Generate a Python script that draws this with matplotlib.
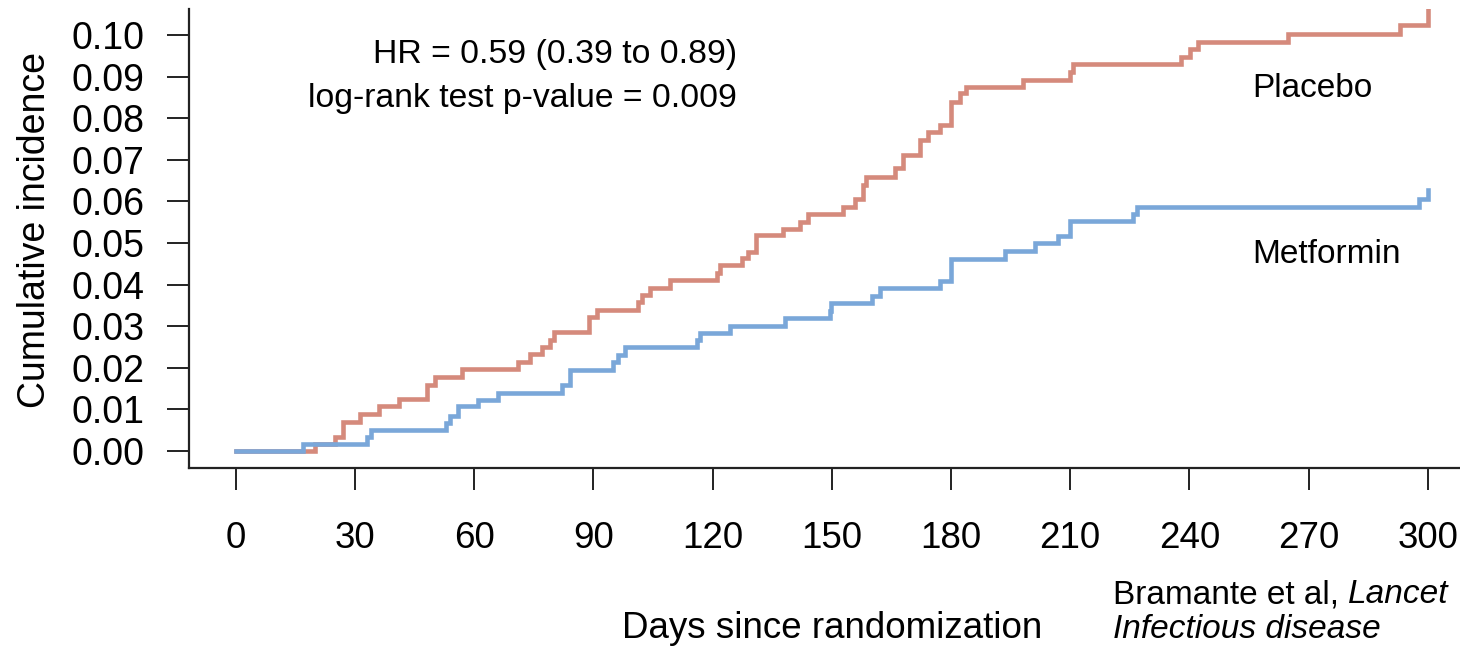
import matplotlib
matplotlib.use("Agg")
import matplotlib.pyplot as plt
import numpy as np

plt.rcParams['font.family'] = ['Liberation Sans', 'DejaVu Sans']

# ---- data ----
placebo_days = [0, 20, 25, 27, 31.2, 36, 41, 48, 50, 57, 71, 74, 77, 79, 80, 89, 91,
                101.3, 102.1, 104.2, 109.2, 121, 121.8, 127.3, 128.9, 131, 137.8, 142,
                144.1, 152.9, 155.8, 157.9, 158.7, 165.9, 168, 172.2, 174.3, 177.2,
                180.1, 182.2, 183.9, 198.2, 209.9, 210.8, 238, 240.1, 242.2, 264.9,
                293, 300]
placebo_inc = [0, 0.0017, 0.0034, 0.0070, 0.0089, 0.0107, 0.0124, 0.0159, 0.0179,
               0.0196, 0.0213, 0.0232, 0.0249, 0.0267, 0.0287, 0.0321, 0.0339,
               0.0359, 0.0375, 0.0391, 0.0411, 0.0427, 0.0447, 0.0463, 0.0479,
               0.0519, 0.0535, 0.0551, 0.0571, 0.0587, 0.0605, 0.0639, 0.0660,
               0.0680, 0.0713, 0.0748, 0.0768, 0.0784, 0.0840, 0.0860, 0.0876,
               0.0893, 0.0912, 0.0930, 0.0948, 0.0966, 0.0984, 0.1004, 0.1024, 0.1090]

metformin_days = [0, 16.9, 32.9, 33.9, 53, 54, 56, 61, 66, 82, 84, 95, 96.2, 97.9,
                  116, 116.8, 124.3, 138.2, 149.5, 149.9, 160, 162.1, 177.2, 180.1,
                  193.6, 201.1, 207, 210, 225.8, 226.9, 297.8, 300.1]
metformin_inc = [0, 0.0017, 0.0034, 0.0050, 0.0067, 0.0085, 0.0107, 0.0123, 0.0140,
                 0.0159, 0.0195, 0.0213, 0.0231, 0.0249, 0.0267, 0.0284, 0.0301,
                 0.0320, 0.0337, 0.0355, 0.0373, 0.0391, 0.0409, 0.0462, 0.0481,
                 0.0499, 0.0517, 0.0553, 0.0571, 0.0587, 0.0606, 0.0627]

x_ticks = [0, 30, 60, 90, 120, 150, 180, 210, 240, 270, 300]
y_ticks = [0.00, 0.01, 0.02, 0.03, 0.04, 0.05, 0.06, 0.07, 0.08, 0.09, 0.10]
y_tick_labels = ["0.00", "0.01", "0.02", "0.03", "0.04", "0.05", "0.06", "0.07",
                 "0.08", "0.09", "0.10"]

RED = "#D58A7C"
BLUE = "#7AA7D9"
W, H = 1460, 646

fig = plt.figure(figsize=(W / 100, H / 100), dpi=100)
# axes box in pixels: left 189, right 1475 (beyond figure), top 9, bottom 468
ax = fig.add_axes([189 / W, 1 - 468 / H, (1475 - 189) / W, (468 - 9) / H])
ax.set_xlim(-11.8, 311.9)
ax.set_ylim(-0.0041, 0.1063)

ax.step(placebo_days, placebo_inc, where='post', color=RED, lw=3.3,
        solid_joinstyle='miter')
ax.step(metformin_days, metformin_inc, where='post', color=BLUE, lw=3.3,
        solid_joinstyle='miter')

for s in ['top', 'right']:
    ax.spines[s].set_visible(False)
for s in ['left', 'bottom']:
    ax.spines[s].set_linewidth(1.6)
    ax.spines[s].set_color('#222222')

ax.set_xticks(x_ticks)
ax.set_xticklabels([str(v) for v in x_ticks])
ax.set_yticks(y_ticks)
ax.set_yticklabels(y_tick_labels)
ax.tick_params(axis='both', direction='out', length=16, width=1.4, color='#222222',
               labelcolor='black')
ax.tick_params(axis='x', pad=22, labelsize=26.5)
ax.tick_params(axis='y', pad=16, labelsize=27)

def px(x, y):
    return x / W, 1 - y / H

fig.text(*px(35, 230), "Cumulative incidence", rotation=90, ha='center', va='center',
         fontsize=27)
fig.text(*px(832, 628), "Days since randomization", ha='center', va='center',
         fontsize=26.5)

fig.text(*px(737, 63), "HR = 0.59 (0.39 to 0.89)", ha='right', va='baseline',
         fontsize=24.3)
fig.text(*px(737, 107), "log-rank test p-value = 0.009", ha='right', va='baseline',
         fontsize=24.3)

fig.text(*px(1252, 97), "Placebo", ha='left', va='baseline', fontsize=24)
fig.text(*px(1252, 263), "Metformin", ha='left', va='baseline', fontsize=24)

t1 = fig.text(*px(1113, 603), "Bramante et al, ", ha='left', va='baseline', fontsize=24)
fig.text(*px(1113, 638), "Infectious disease", ha='left', va='baseline', fontsize=24,
         style='italic')
fig.canvas.draw()
r = fig.canvas.get_renderer()
bb = t1.get_window_extent(r)
fig.text(bb.x1 / W, 1 - 603 / H, "Lancet", ha='left', va='baseline', fontsize=24,
         style='italic')

fig.savefig("out.png", dpi=100)
